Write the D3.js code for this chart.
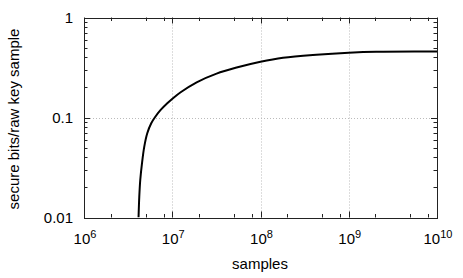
<!DOCTYPE html>
<html>
<head>
<meta charset="utf-8">
<script src="https://cdn.jsdelivr.net/npm/d3@7"></script>
<style>
  body { margin: 0; background: #fff; }
  svg { display: block; font-family: "Liberation Sans", Arial, sans-serif; }
</style>
</head>
<body>
<svg id="chart" width="463" height="278"></svg>
<script>
// curve (samples -> secure bits per raw key sample)
const samples = [4.15e6, 4.23e6, 4.34e6, 4.54e6, 4.82e6, 5.21e6, 5.78e6, 6.37e6, 7.39e6,
  8.78e6, 1.02e7, 1.245e7, 1.89e7, 3.18e7, 5.36e7, 1e8, 1.8e8, 4.3e8, 1e9, 2.05e9, 1e10];
const rate = [0.01, 0.0161, 0.0237, 0.0348, 0.0511, 0.0695, 0.0875, 0.1005, 0.119,
  0.1387, 0.156, 0.179, 0.225, 0.275, 0.316, 0.361, 0.396, 0.425, 0.445, 0.455, 0.457];

const xMajor = [1e6, 1e7, 1e8, 1e9, 1e10];
const xMinorMult = [2, 5, 8];
const yMajor = [0.01, 0.1, 1];
const yTickLabels = ['0.01', '0.1', '1'];
const yMinorMult = [2, 3, 4, 5, 6, 7, 8, 9];

const margin = {top: 17.5, right: 26, bottom: 60.5, left: 84};
const W = 463, H = 278;
const svg = d3.select('#chart');
svg.append('rect').attr('width', W).attr('height', H).attr('fill', '#fff');

const x = d3.scaleLog().domain([1e6, 1e10]).range([margin.left, W - margin.right]);
const y = d3.scaleLog().domain([0.01, 1]).range([H - margin.bottom, margin.top]);

const x0 = x.range()[0], x1 = x.range()[1];
const y0 = y.range()[0], y1 = y.range()[1];

/* grid */
const grid = svg.append('g').attr('stroke', '#bbb').attr('stroke-width', 1)
  .attr('stroke-dasharray', '1,2');
grid.selectAll('.gx').data(xMajor.slice(1, -1)).enter().append('line')
  .attr('x1', (d) => Math.round(x(d)) + 0.5).attr('x2', (d) => Math.round(x(d)) + 0.5)
  .attr('y1', y0).attr('y2', y1);
grid.selectAll('.gy').data(yMajor.slice(1, -1)).enter().append('line')
  .attr('y1', (d) => Math.round(y(d)) + 0.5).attr('y2', (d) => Math.round(y(d)) + 0.5)
  .attr('x1', x0).attr('x2', x1);

/* ticks on all four sides, pointing in */
const xMinor = [];
xMajor.slice(0, -1).forEach((m) => xMinorMult.forEach((k) => xMinor.push(m * k)));
const yMinor = [];
yMajor.slice(0, -1).forEach((m) => yMinorMult.forEach((k) => yMinor.push(m * k)));

const ticks = svg.append('g').attr('stroke', '#222').attr('stroke-width', 1);
const xt = xMajor.map((v) => ({v, len: 6})).concat(xMinor.map((v) => ({v, len: 3.5})));
const yt = yMajor.map((v) => ({v, len: 6})).concat(yMinor.map((v) => ({v, len: 3.5})));
xt.forEach((t) => {
  const px = Math.round(x(t.v)) + 0.5;
  ticks.append('line').attr('x1', px).attr('x2', px).attr('y1', y0).attr('y2', y0 - t.len);
  ticks.append('line').attr('x1', px).attr('x2', px).attr('y1', y1).attr('y2', y1 + t.len);
});
yt.forEach((t) => {
  const py = Math.round(y(t.v)) + 0.5;
  ticks.append('line').attr('y1', py).attr('y2', py).attr('x1', x0).attr('x2', x0 + t.len);
  ticks.append('line').attr('y1', py).attr('y2', py).attr('x1', x1).attr('x2', x1 - t.len);
});

/* border */
svg.append('rect')
  .attr('x', Math.round(x0) + 0.5).attr('y', Math.round(y1) + 0.5)
  .attr('width', Math.round(x1) - Math.round(x0)).attr('height', Math.round(y0) - Math.round(y1))
  .attr('fill', 'none').attr('stroke', '#222').attr('stroke-width', 1);

/* curve */
svg.append('clipPath').attr('id', 'clip').append('rect')
  .attr('x', x0).attr('y', y1).attr('width', x1 - x0).attr('height', y0 - y1);
const pts = samples.map((s, i) => [s, rate[i]]);
const line = d3.line().x((d) => x(d[0])).y((d) => y(d[1])).curve(d3.curveCatmullRom.alpha(0.5));
svg.append('path').datum(pts).attr('clip-path', 'url(#clip)')
  .attr('d', line).attr('fill', 'none').attr('stroke', '#000').attr('stroke-width', 2)
  .attr('stroke-linejoin', 'round');

/* tick labels */
svg.selectAll('.yl').data(yMajor).enter().append('text')
  .attr('x', 73).attr('y', (d) => y(d) + 5.5)
  .attr('text-anchor', 'end').attr('font-size', 15).attr('fill', '#000')
  .text((d, i) => yTickLabels[i]);

xMajor.forEach((v) => {
  const t = svg.append('text').attr('x', x(v) + 1).attr('y', y0 + 26)
    .attr('text-anchor', 'middle').attr('font-size', 15).attr('fill', '#000');
  t.append('tspan').text('10');
  t.append('tspan').attr('font-size', 11).attr('dy', -6).text(Math.round(Math.log10(v)));
});

/* axis titles */
svg.append('text').attr('x', 260).attr('y', 269)
  .attr('text-anchor', 'middle').attr('font-size', 15).text('samples');
svg.append('text').attr('transform', 'translate(18.5,119) rotate(-90)')
  .attr('text-anchor', 'middle').attr('font-size', 15).text('secure bits/raw key sample');
</script>
</body>
</html>
